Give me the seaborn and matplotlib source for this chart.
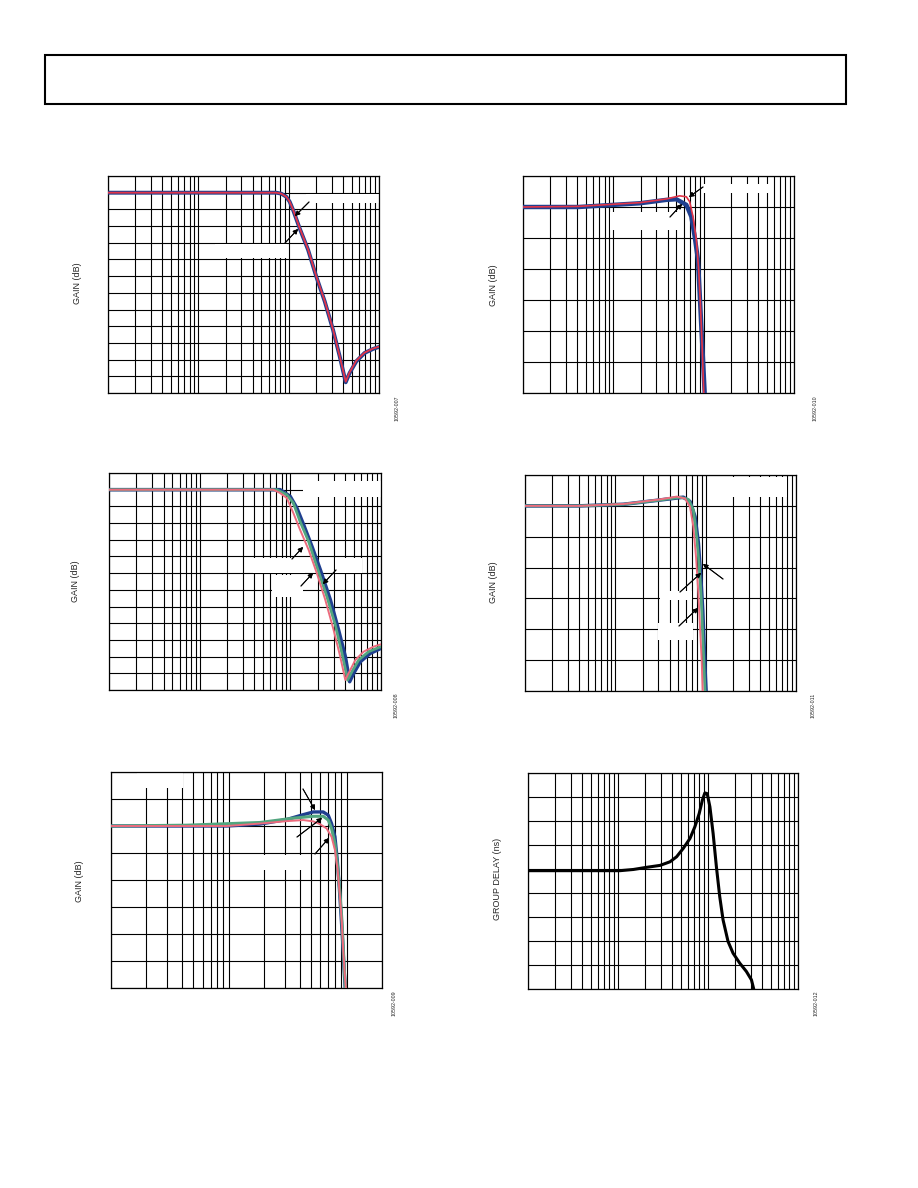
import numpy as np
import pandas as pd
import seaborn as sns
import matplotlib
matplotlib.use("Agg")
import matplotlib.pyplot as plt
from matplotlib.patches import Rectangle
from matplotlib.ticker import LogLocator, NullFormatter, MultipleLocator

# ---- data (freq in MHz) ----
# panel 1: wide-band gain, two overlaid traces
p1_freq = [0.1, 1.0, 5.0, 7.3, 8.3, 9.4, 10.26, 11.2, 13.2, 16.4, 20.2, 25.1, 31.0, 36.7, 42.8, 47.3, 56.1, 69.3, 85.9, 100]
p1_gain_blue = [0, 0, 0, 0, -0.3, -1.2, -2.7, -5.2, -10.6, -17.1, -25.1, -32.6, -41.1, -49.0, -56.8, -54.0, -50.5, -48.0, -46.8, -46.2]
p1_gain_red = [0, 0, 0, 0, -0.3, -1.2, -2.7, -5.1, -10.5, -17.0, -25.0, -32.5, -41.0, -49.0, -56.6, -53.8, -50.3, -47.9, -46.7, -46.1]

# panel 2: passband detail
p2_freq_blue = [0.1, 0.41, 1.96, 3.86, 4.98, 6.43, 7.3, 7.95, 8.65, 9.03, 9.42, 9.84, 10.26, 10.6]
p2_gain_blue = [0, 0, 0.12, 0.23, 0.25, 0.07, -0.31, -0.95, -1.71, -2.78, -3.86, -4.93, -6.0, -7.0]
p2_freq_red = [0.1, 0.41, 1.96, 3.86, 5.42, 6.43, 7.0, 7.62, 8.3, 8.81, 9.19, 9.59, 10.0, 10.4]
p2_gain_red = [0, 0.02, 0.14, 0.26, 0.36, 0.33, 0.17, -0.31, -1.06, -2.03, -3.10, -4.39, -5.9, -7.0]

# panel 3: wide-band gain, three traces
p3_freq_red = [0.1, 6.51, 7.71, 9.14, 10.8, 12.8, 15.9, 19.6, 24.3, 30.0, 35.5, 40.4, 43.9, 52.1, 64.4, 83.0, 100]
p3_gain_red = [0, 0, -1.0, -2.5, -7, -12, -18, -25, -33, -42, -50, -57, -55, -51, -48.5, -47, -46.3]
p3_freq_green = [0.1, 7.08, 9.14, 10.8, 12.8, 15.9, 19.6, 25.3, 31.3, 37.1, 42.9, 47.8, 56.7, 73.1, 100]
p3_gain_green = [0, 0, -1.5, -4, -9.5, -15.5, -23, -32, -40.5, -49, -57, -54.5, -51, -48.5, -47]
p3_freq_blue = [0.1, 7.71, 9.95, 11.8, 14.0, 17.3, 21.4, 27.6, 34.0, 40.4, 45.1, 49.9, 59.1, 76.3, 100]
p3_gain_blue = [0, 0, -2, -5.5, -10.5, -17, -24, -33, -42, -50, -57.5, -55, -51.5, -49, -47.5]

# panel 4: passband detail, three traces
p4_freq_red = [0.1, 0.41, 1.23, 3.12, 4.77, 5.90, 6.71, 7.30, 7.82, 8.30, 8.65, 9.03, 9.27, 9.6]
p4_gain_red = [0, 0, 0.06, 0.21, 0.30, 0.24, -0.03, -0.67, -1.65, -2.83, -3.91, -4.99, -6.0, -7.0]
p4_freq_green = [0.1, 0.41, 1.23, 3.12, 5.20, 6.43, 7.30, 7.95, 8.51, 8.96, 9.27, 9.59, 9.84, 10.2]
p4_gain_green = [0, 0, 0.05, 0.19, 0.28, 0.21, -0.13, -1.0, -1.97, -3.05, -4.13, -5.21, -6.0, -7.0]
p4_freq_blue = [0.1, 0.41, 1.23, 3.12, 5.66, 6.71, 7.62, 8.30, 8.81, 9.27, 9.59, 9.92, 10.1, 10.4]
p4_gain_blue = [0, 0, 0.05, 0.19, 0.28, 0.14, -0.35, -1.21, -2.29, -3.37, -4.45, -5.53, -6.0, -7.0]

# panel 5: gain flatness, three traces
p5_freq_blue = [1, 9.62, 18.4, 31.0, 42.9, 52.2, 63.4, 69.9, 74.6, 79.7, 83.4, 86.7, 89.6, 92.5, 95.0, 97.4, 100]
p5_gain_blue = [0, 0, 0.07, 0.24, 0.42, 0.52, 0.52, 0.40, 0.09, -0.40, -1.26, -2.25, -3.23, -4.22, -5.20, -6.0, -7.0]
p5_freq_green = [1, 4.41, 18.4, 35.3, 52.2, 63.4, 69.9, 74.6, 79.7, 84.0, 87.9, 91.3, 93.7, 96.1, 98.0, 101]
p5_gain_green = [0, 0.03, 0.13, 0.29, 0.36, 0.36, 0.22, -0.09, -0.65, -1.51, -2.49, -3.48, -4.46, -5.45, -6.0, -7.0]
p5_freq_red = [1, 9.62, 18.4, 31.0, 42.9, 52.2, 59.4, 67.7, 74.6, 79.7, 84.0, 87.9, 91.3, 93.7, 96.8, 98.7, 101]
p5_gain_red = [0, 0, 0.09, 0.18, 0.22, 0.17, 0.07, -0.09, -0.40, -0.89, -1.63, -2.62, -3.60, -4.58, -5.57, -6.0, -7.0]

# panel 6: group delay
p6_freq = [0.1, 1.05, 1.48, 2.08, 2.93, 3.78, 4.48, 5.31, 6.30, 7.15, 7.98, 8.69, 9.23, 9.80, 10.5, 11.4, 12.4, 13.5, 14.7, 16.7, 19.0, 22.5, 26.7, 30.4, 32.2]
p6_delay = [49.3, 49.3, 49.8, 50.7, 51.5, 53.0, 55.1, 58.6, 62.7, 67.6, 73.1, 78.9, 81.7, 81.4, 75.9, 64.8, 50.9, 38.5, 28.8, 19.8, 14.9, 10.8, 7.3, 3.8, 0.0]

fig_ids = ["10592-007", "10592-010", "10592-008", "10592-011", "10592-009", "10592-012"]

BLUE = "#1f3f8f"
RED = "#e23448"
PINK = "#ec6b7d"
GREEN = "#52a57f"

W, H = 918, 1188

sns.set_style("white")
plt.rcParams["font.family"] = ["Liberation Sans", "DejaVu Sans"]

fig = plt.figure(figsize=(W / 100, H / 100), dpi=100)


def make_ax(x0, y0, x1, y1):
    return fig.add_axes([x0 / W, 1 - y1 / H, (x1 - x0) / W, (y1 - y0) / H])


def style_ax(ax, xlim, ylim, ystep):
    ax.set_xscale("log")
    ax.set_xlim(*xlim)
    ax.set_ylim(*ylim)
    ax.xaxis.set_major_locator(LogLocator(base=10))
    ax.xaxis.set_minor_locator(LogLocator(base=10, subs=np.arange(2, 10)))
    ax.xaxis.set_minor_formatter(NullFormatter())
    ax.yaxis.set_major_locator(MultipleLocator(ystep))
    ax.set_axisbelow(True)
    ax.grid(True, which="both", axis="x", color="black", lw=0.8)
    ax.grid(True, which="major", axis="y", color="black", lw=0.8)
    ax.tick_params(which="both", length=0, labelbottom=False, labelleft=False)
    ax.set_xlabel("")
    ax.set_ylabel("")
    for s in ax.spines.values():
        s.set_color("black")
        s.set_linewidth(0.9)


def trace(ax, f, g, color, lw):
    df = pd.DataFrame({"freq": f, "val": g})
    sns.lineplot(data=df, x="freq", y="val", ax=ax, color=color, linewidth=lw,
                 estimator=None, sort=False, zorder=3)


def blank(ax, x0, y0, x1, y1):
    # white patches where the original label text sat
    ax.add_artist(Rectangle((x0 / W, 1 - y1 / H), (x1 - x0) / W, (y1 - y0) / H,
                            transform=fig.transFigure, facecolor="white",
                            edgecolor="none", zorder=1.5))


def arrow(x0, y0, x1, y1):
    fig.add_artist(plt.annotate("", xy=(x1, H - y1), xytext=(x0, H - y0),
                                xycoords="figure pixels", textcoords="figure pixels",
                                arrowprops=dict(arrowstyle="-|>", color="black", lw=0.7,
                                                mutation_scale=7, shrinkA=0, shrinkB=0)))


# panel 1
ax1 = make_ax(108, 176, 379, 393)
trace(ax1, p1_freq, p1_gain_blue, BLUE, 2.8)
trace(ax1, p1_freq, p1_gain_red, RED, 1.3)
style_ax(ax1, (0.1, 100), (-60, 5), 5)
blank(ax1, 306, 194, 379, 203)
blank(ax1, 215, 244, 287, 258)

# panel 2
ax2 = make_ax(523, 176, 794, 393)
trace(ax2, p2_freq_blue, p2_gain_blue, BLUE, 3.2)
trace(ax2, p2_freq_red, p2_gain_red, RED, 1.2)
style_ax(ax2, (0.1, 100), (-6, 1), 1)
blank(ax2, 703, 184, 770, 193)
blank(ax2, 610, 212, 680, 230)

# panel 3
ax3 = make_ax(109, 473, 381, 690)
trace(ax3, p3_freq_blue, p3_gain_blue, BLUE, 2.6)
trace(ax3, p3_freq_green, p3_gain_green, GREEN, 2.0)
trace(ax3, p3_freq_red, p3_gain_red, PINK, 1.4)
style_ax(ax3, (0.1, 100), (-60, 5), 5)
blank(ax3, 303, 481, 381, 497)
blank(ax3, 253, 558, 305, 573)
blank(ax3, 335, 558, 362, 573)
blank(ax3, 272, 575, 303, 597)

# panel 4
ax4 = make_ax(525, 475, 796, 691)
trace(ax4, p4_freq_blue, p4_gain_blue, BLUE, 2.6)
trace(ax4, p4_freq_green, p4_gain_green, GREEN, 2.0)
trace(ax4, p4_freq_red, p4_gain_red, PINK, 1.4)
style_ax(ax4, (0.1, 100), (-6, 1), 1)
blank(ax4, 732, 477, 787, 497)
blank(ax4, 660, 591, 692, 600)
blank(ax4, 658, 623, 693, 640)

# panel 5
ax5 = make_ax(111, 772, 382, 988)
trace(ax5, p5_freq_blue, p5_gain_blue, BLUE, 2.4)
trace(ax5, p5_freq_green, p5_gain_green, GREEN, 2.2)
trace(ax5, p5_freq_red, p5_gain_red, PINK, 1.4)
style_ax(ax5, (1, 200), (-6, 2), 1)
blank(ax5, 137, 773, 183, 788)
blank(ax5, 257, 855, 303, 870)

# panel 6
ax6 = make_ax(528, 773, 798, 989)
trace(ax6, p6_freq, p6_delay, "black", 2.2)
style_ax(ax6, (0.1, 100), (0, 90), 10)

# callout arrows
arrow(309, 202, 295, 216)
arrow(285, 243, 298, 229)
arrow(703, 187, 689, 197)
arrow(670, 217, 682, 204)
arrow(292, 559, 303, 547)
arrow(301, 586, 313, 573)
arrow(336, 570, 323, 584)
arrow(723, 579, 703, 564)
arrow(680, 592, 701, 573)
arrow(679, 626, 698, 608)
arrow(303, 789, 315, 810)
arrow(297, 837, 322, 818)
arrow(315, 854, 329, 838)

# y labels
for (x, y, t) in [(77, 283, "GAIN (dB)"), (494, 285, "GAIN (dB)"),
                  (76, 581, "GAIN (dB)"), (494, 582, "GAIN (dB)"),
                  (79, 881, "GAIN (dB)"), (497, 879, "GROUP DELAY (ns)")]:
    fig.text(x / W, 1 - y / H, t, rotation=90, ha="center", va="center", fontsize=6.5)

# figure numbers
for (x, y), t in zip([(397, 408), (815, 408), (396, 705), (813, 705), (394, 1003), (816, 1003)], fig_ids):
    fig.text(x / W, 1 - y / H, t, rotation=90, ha="center", va="center", fontsize=3.8)

# header frame
fig.add_artist(Rectangle((45 / W, 1 - 104 / H), (846 - 45) / W, (104 - 55) / H,
                         transform=fig.transFigure, fill=False, edgecolor="black", lw=1.5))

fig.savefig("out.png", dpi=100)
